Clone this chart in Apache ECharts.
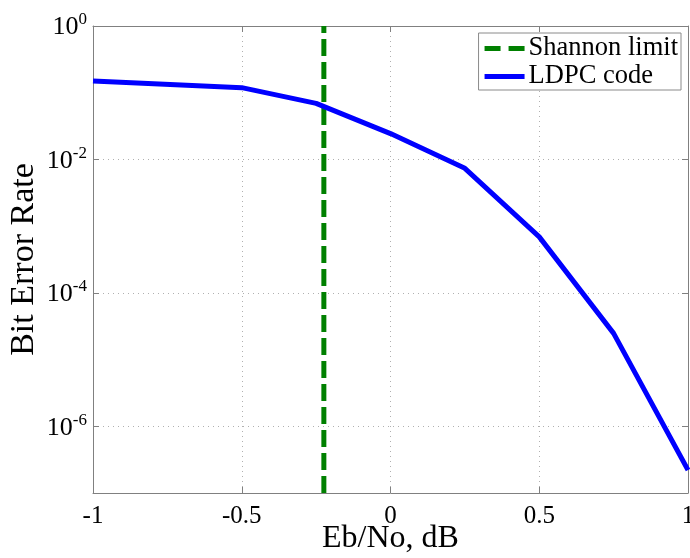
<!DOCTYPE html>
<html>
<head>
<meta charset="utf-8">
<script src="https://cdn.jsdelivr.net/npm/echarts@6/dist/echarts.min.js"></script>
<style>
  html, body { margin: 0; padding: 0; background: #fff; }
  #chart { width: 690px; height: 558px; }
</style>
</head>
<body>
<div id="chart"></div>
<script>
// Simulated LDPC decoder performance
const ebNo = [-1, -0.5, -0.25, 0, 0.25, 0.5, 0.75, 1];
const ldpcBer = [0.150, 0.119, 0.0693, 0.0244, 0.00736, 6.9e-4, 2.47e-5, 2.2e-7];

// Shannon limit (dB) and vertical span of its marker line
const shannonLimit = -0.224;
const berRange = [1e-7, 1];

// Axis ticks
const xTicks = [-1, -0.5, 0, 0.5, 1];
const yTicks = [1e-6, 1e-4, 1e-2, 1];

const FONT = 'Liberation Serif';
const AXIS_GRAY = '#808080';
const GRID_GRAY = '#b0b0b0';

// Legend glyphs: a dashed and a solid stroke
const DASHED_ICON = 'path://M0,0h16v5h-16zM24,0h16v5h-16z';
const SOLID_ICON = 'path://M0,0h40v5h-40z';

const chart = echarts.init(document.getElementById('chart'));

const yLabel = {
  customValues: yTicks,
  margin: 6,
  fontFamily: FONT,
  formatter: v => '{b|10}{s|' + Math.round(Math.log10(v)) + '}',
  rich: {
    b: { fontSize: 26, fontFamily: FONT, color: '#000', padding: [3, 0, 0, 0] },
    s: { fontSize: 17, fontFamily: FONT, color: '#000', verticalAlign: 'top' }
  }
};

chart.setOption({
  animation: false,
  backgroundColor: '#fff',
  grid: { left: 93, right: 2, top: 26, bottom: 65, containLabel: false, outerBoundsMode: 'none' },
  legend: {
    right: 9,
    top: 33,
    orient: 'vertical',
    itemWidth: 40,
    itemHeight: 5,
    itemGap: 1,
    padding: [2, 3, 0, 6],
    borderColor: '#8a8a8a',
    borderWidth: 1,
    backgroundColor: '#fff',
    textStyle: { fontFamily: FONT, fontSize: 26.5, color: '#000', padding: [0, 0, 0, -1] },
    data: [
      { name: 'Shannon limit', icon: DASHED_ICON },
      { name: 'LDPC code', icon: SOLID_ICON }
    ]
  },
  xAxis: [
    {
      type: 'value', min: -1, max: 1, interval: 0.5,
      name: 'Eb/No, dB', nameLocation: 'middle', nameGap: 30, nameMoveOverlap: false,
      nameTextStyle: { fontFamily: FONT, fontSize: 32, color: '#000' },
      axisLine: { show: true, onZero: false, lineStyle: { color: AXIS_GRAY, width: 1 } },
      axisTick: { show: true, inside: true, length: 6, lineStyle: { color: AXIS_GRAY } },
      axisLabel: { fontFamily: FONT, fontSize: 25, color: '#000', margin: 11,
                   formatter: v => String(v) },
      splitLine: { show: true, lineStyle: { color: GRID_GRAY, type: [1, 4], width: 1 } }
    },
    {
      type: 'value', min: -1, max: 1, interval: 0.5, position: 'top',
      axisLine: { show: true, onZero: false, lineStyle: { color: AXIS_GRAY, width: 1 } },
      axisTick: { show: true, inside: true, length: 6, lineStyle: { color: AXIS_GRAY } },
      axisLabel: { show: false },
      splitLine: { show: false }
    }
  ],
  yAxis: [
    {
      type: 'log', logBase: 10, min: berRange[0], max: berRange[1],
      name: 'Bit Error Rate', nameLocation: 'middle', nameGap: 52, nameRotate: 90, nameMoveOverlap: false,
      nameTextStyle: { fontFamily: FONT, fontSize: 34, color: '#000' },
      axisLine: { show: true, onZero: false, lineStyle: { color: AXIS_GRAY, width: 1 } },
      axisTick: { show: true, inside: true, length: 6, customValues: yTicks, lineStyle: { color: AXIS_GRAY } },
      axisLabel: yLabel,
      minorTick: { show: false },
      splitLine: { show: true, lineStyle: { color: GRID_GRAY, type: [1, 4], width: 1 } }
    },
    {
      type: 'log', logBase: 10, min: berRange[0], max: berRange[1], position: 'right',
      axisLine: { show: true, onZero: false, lineStyle: { color: AXIS_GRAY, width: 1 } },
      axisTick: { show: true, inside: true, length: 6, customValues: yTicks, lineStyle: { color: AXIS_GRAY } },
      axisLabel: { show: false },
      splitLine: { show: false }
    }
  ],
  series: [
    {
      name: 'Shannon limit',
      type: 'line',
      xAxisIndex: 0, yAxisIndex: 0,
      symbol: 'none',
      color: '#008000',
      lineStyle: { color: '#008000', width: 5, type: [17, 6] },
      data: berRange.map(b => [shannonLimit, b]),
      z: 2
    },
    {
      name: 'LDPC code',
      type: 'line',
      xAxisIndex: 0, yAxisIndex: 0,
      symbol: 'none',
      color: '#0000ff',
      lineStyle: { color: '#0000ff', width: 5 },
      data: ebNo.map((x, i) => [x, ldpcBer[i]]),
      z: 3
    }
  ]
});
</script>
</body>
</html>
